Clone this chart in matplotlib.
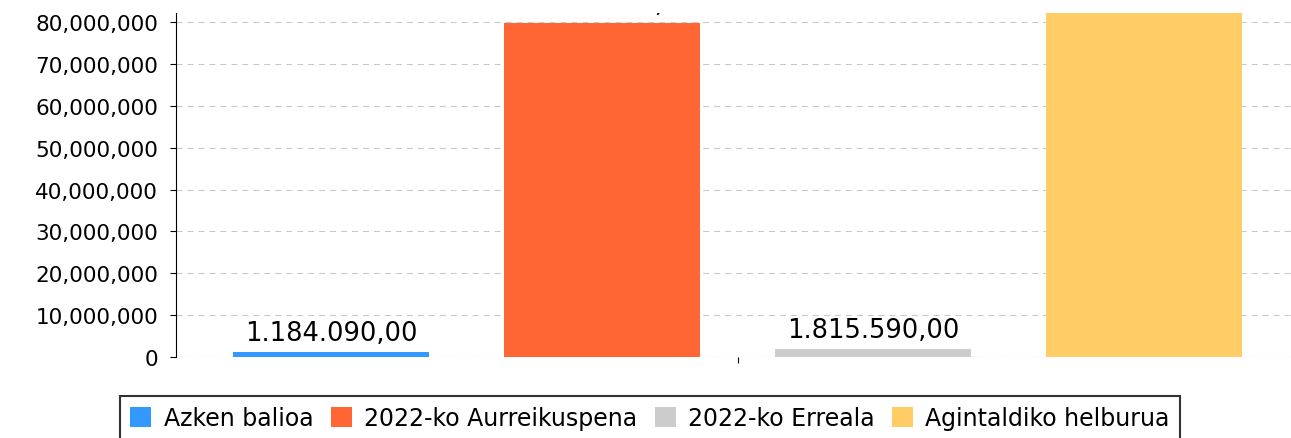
import numpy as np
import matplotlib.pyplot as plt
from matplotlib.ticker import FuncFormatter, MultipleLocator

labels = ["Azken balioa", "2022-ko Aurreikuspena", "2022-ko Erreala", "Agintaldiko helburua"]
values = [1184090, 79760000, 1815590, 90000000]
colors = ["#3399ff", "#ff6633", "#cccccc", "#ffcc66"]

plt.rcParams["font.family"] = "DejaVu Sans"
plt.rcParams["lines.scale_dashes"] = False


def eu_format(v):
    # 1,184,090.00 -> 1.184.090,00
    s = f"{v:,.2f}"
    return s.replace(",", "X").replace(".", ",").replace("X", ".")


fig = plt.figure(figsize=(12.91, 4.39), dpi=100)
ax = fig.add_axes([0.1363, 0.1845, 0.8637, 0.7836])

offsets = np.arange(len(values)) - 1.5
for off, v, c, lab in zip(offsets, values, colors, labels):
    ax.bar(off, v, width=0.723, color=c, label=lab, zorder=2)
    # value labels stay inside the plot area, so tall bars lose theirs
    ax.annotate(eu_format(v), xy=(off, v), xytext=(0, 9), textcoords="offset points",
                ha="center", va="baseline", fontsize=18.5, clip_on=True)

ax.set_xlim(-2.073, 2.041)
ax.set_ylim(0, 82.15e6)
ax.yaxis.set_major_locator(MultipleLocator(10e6))
ax.yaxis.set_major_formatter(FuncFormatter(lambda v, p: f"{int(v):,}"))
ax.set_xticks([0])
ax.set_xticklabels([""])
ax.tick_params(axis="y", labelsize=15.5, length=4.3, pad=8.6, width=0.8)
ax.tick_params(axis="x", length=4.3, width=0.8)

for s in ["top", "right", "bottom"]:
    ax.spines[s].set_visible(False)
ax.spines["left"].set_linewidth(0.8)

ax.yaxis.grid(True, color="#c8c8c8", linestyle=(0, (4.3, 3.6)), linewidth=0.75)
ax.set_axisbelow(True)
ax.axhline(0, color="#555555", linestyle=(0, (3, 2)), linewidth=0.75, zorder=1.5)

leg = ax.legend(loc="upper center", bbox_to_anchor=(0.5035, 0.0957), bbox_transform=fig.transFigure,
                ncol=4, fontsize=17, frameon=True, fancybox=False, edgecolor="black",
                handlelength=0.9, handleheight=0.95, handletextpad=0.52, columnspacing=0.73,
                borderpad=0.43, borderaxespad=0)
leg.get_frame().set_linewidth(1.5)

fig.savefig("out.png", dpi=100)
